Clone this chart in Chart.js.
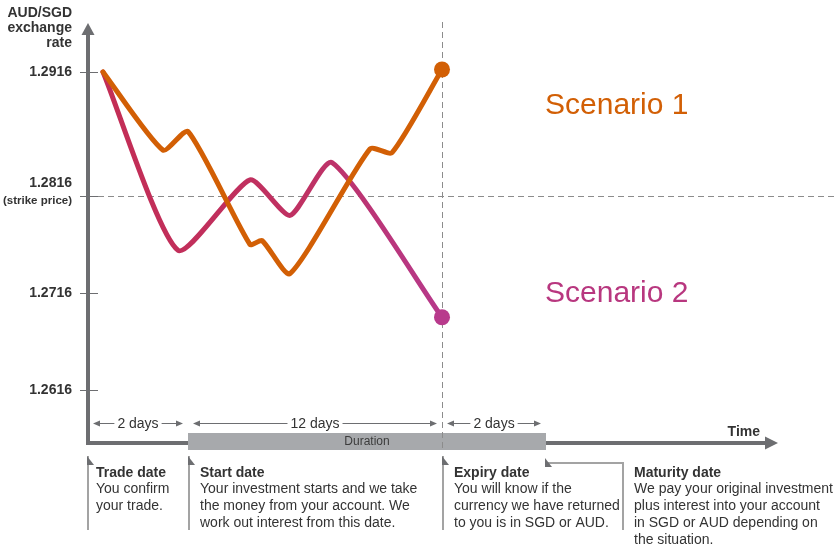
<!DOCTYPE html>
<html>
<head>
<meta charset="utf-8">
<title>AUD/SGD exchange rate scenarios</title>
<script src="https://cdn.jsdelivr.net/npm/chart.js@4.4.1/dist/chart.umd.min.js"></script>
<style>
  html, body { margin: 0; padding: 0; background: #fff; }
  canvas { display: block; }
</style>
</head>
<body>
<canvas id="rateChart" width="835" height="544"></canvas>
<script>
// values (x = days after the trade date)
const scenario1Days = [0.3, 1.5, 2.0, 4.93, 5.5, 6.82, 10.6, 11.64, 14];
const scenario1Rates = [1.2916, 1.2853, 1.2868, 1.2766, 1.2770, 1.2736, 1.2854, 1.2851, 1.2918];
const scenario2Days = [0.3, 1.8, 4.93, 6.82, 8.8, 14];
const scenario2Rates = [1.2916, 1.2760, 1.2829, 1.2796, 1.2843, 1.2691];

const rateTicks = [1.2616, 1.2716, 1.2816, 1.2916];
const strikePrice = 1.2816;

const milestoneDays = [0, 2, 14, 16];
const periodLabels = ['2 days', '12 days', '2 days'];
const milestoneTitles = ['Trade date', 'Start date', 'Expiry date', 'Maturity date'];
const milestoneTexts = [
    ['You confirm', 'your trade.'],
    ['Your investment starts and we take', 'the money from your account. We', 'work out interest from this date.'],
    ['You will know if the', 'currency we have returned', 'to you is in SGD or AUD.'],
    ['We pay your original investment', 'plus interest into your account', 'in SGD or AUD depending on', 'the situation.']
];

const ORANGE = '#d25f05';
const MAGENTA = '#b8377f';
const AXIS = '#6d6e71';
const TEXT = '#333333';
const FONT = "'Liberation Sans', Arial, sans-serif";

// the diagram is schematic: both axes are drawn piecewise, not to scale
const scaleStops = {
    x: [[0, 0], [2, 0.13387], [14, 0.47390], [16, 0.61312]],
    y: [[1.2616, 0.1268], [1.2716, 0.3589], [1.2816, 0.5909], [1.2916, 0.8876]]
};

class PiecewiseScale extends Chart.LinearScale {
    getPixelForValue(value) {
        const stops = scaleStops[this.id];
        let i = 1;
        while (i < stops.length - 1 && value > stops[i][0]) i++;
        const a = stops[i - 1], b = stops[i];
        const frac = a[1] + (value - a[0]) / (b[0] - a[0]) * (b[1] - a[1]);
        return this.getPixelForDecimal(frac);
    }
}
PiecewiseScale.id = 'piecewise';
PiecewiseScale.defaults = Chart.LinearScale.defaults;
Chart.register(PiecewiseScale);

function toPoints(days, rates) {
    return days.map((d, i) => ({ x: d, y: rates[i] }));
}

function lastPointOnly(ctx) {
    return ctx.dataIndex === ctx.dataset.data.length - 1 ? 8 : 0;
}

function tri(c, pts, color) {
    c.beginPath();
    c.moveTo(pts[0][0], pts[0][1]);
    c.lineTo(pts[1][0], pts[1][1]);
    c.lineTo(pts[2][0], pts[2][1]);
    c.closePath();
    c.fillStyle = color;
    c.fill();
}

const diagramPlugin = {
    id: 'diagram',
    beforeDatasetsDraw(chart) {
        const c = chart.ctx;
        const xs = chart.scales.x, ys = chart.scales.y;
        const area = chart.chartArea;
        const axisY = area.bottom;
        const axisX = area.left;
        c.save();

        // strike price guide line
        c.strokeStyle = '#8c8c8c';
        c.lineWidth = 1;
        c.setLineDash([6, 4]);
        const sy = Math.round(ys.getPixelForValue(strikePrice)) + 0.5;
        c.beginPath();
        c.moveTo(axisX + 10, sy);
        c.lineTo(chart.width, sy);
        c.stroke();
        c.restore();

        c.save();
        // x axis with arrow
        c.strokeStyle = AXIS;
        c.lineWidth = 4;
        c.beginPath();
        c.moveTo(axisX - 2, axisY);
        c.lineTo(767, axisY);
        c.stroke();
        tri(c, [[778, axisY], [765, axisY - 6.5], [765, axisY + 6.5]], AXIS);
        // y axis with arrow
        c.beginPath();
        c.moveTo(axisX, axisY + 2);
        c.lineTo(axisX, 34);
        c.stroke();
        tri(c, [[axisX, 23], [axisX - 6.5, 35], [axisX + 6.5, 35]], AXIS);

        // tick marks crossing the y axis
        c.lineWidth = 1;
        rateTicks.forEach(v => {
            const y = Math.round(ys.getPixelForValue(v)) + 0.5;
            c.beginPath();
            c.moveTo(axisX - 8, y);
            c.lineTo(axisX + 10, y);
            c.stroke();
        });

        // axis titles
        c.fillStyle = TEXT;
        c.font = `bold 14px ${FONT}`;
        c.textAlign = 'right';
        c.textBaseline = 'alphabetic';
        c.fillText('AUD/SGD', 72, 17);
        c.fillText('exchange', 72, 32);
        c.fillText('rate', 72, 47);
        c.textBaseline = 'middle';
        c.fillText('1.2816', 72, sy - 13);
        c.font = `bold 11.5px ${FONT}`;
        c.fillText('(strike price)', 72, sy + 4);
        c.font = `bold 14px ${FONT}`;
        c.fillText('Time', 760, axisY - 11);

        // duration bar
        const startX = xs.getPixelForValue(milestoneDays[1]);
        const expiryX = xs.getPixelForValue(milestoneDays[2]);
        const maturityX = xs.getPixelForValue(milestoneDays[3]);
        c.fillStyle = '#a7a9ac';
        c.fillRect(startX, axisY - 10, maturityX - startX, 17);
        c.fillStyle = '#3c3c3c';
        c.font = `12px ${FONT}`;
        c.textAlign = 'center';
        c.fillText('Duration', (startX + maturityX) / 2, axisY - 1);

        // expiry guide
        c.strokeStyle = '#8c8c8c';
        c.setLineDash([6, 4]);
        c.beginPath();
        c.moveTo(Math.round(expiryX) + 0.5, 22);
        c.lineTo(Math.round(expiryX) + 0.5, axisY + 7);
        c.stroke();
        c.setLineDash([]);

        // period arrows
        const ay = axisY - 19.5;
        c.font = `14px ${FONT}`;
        c.strokeStyle = AXIS;
        c.lineWidth = 1;
        periodLabels.forEach((label, i) => {
            const x0 = xs.getPixelForValue(milestoneDays[i]) + 5;
            const x1 = xs.getPixelForValue(milestoneDays[i + 1]) - 5;
            const cx = (x0 + x1) / 2;
            const w = c.measureText(label).width;
            c.beginPath();
            c.moveTo(x0 + 4, ay);
            c.lineTo(cx - w / 2 - 3, ay);
            c.moveTo(cx + w / 2 + 3, ay);
            c.lineTo(x1 - 4, ay);
            c.stroke();
            tri(c, [[x0, ay], [x0 + 7, ay - 3], [x0 + 7, ay + 3]], AXIS);
            tri(c, [[x1, ay], [x1 - 7, ay - 3], [x1 - 7, ay + 3]], AXIS);
            c.fillStyle = TEXT;
            c.textAlign = 'center';
            c.fillText(label, cx, ay + 0.5);
        });

        // milestone notes under the timeline
        const topY = axisY + 13;
        milestoneDays.forEach((d, i) => {
            const mx = Math.round(xs.getPixelForValue(d)) + (i === 1 || i === 2 ? 1 : 0);
            const last = i === milestoneDays.length - 1;
            const lineX = last ? mx + 77 : mx;
            c.strokeStyle = '#a3a3a3';
            c.lineWidth = 2;
            c.beginPath();
            if (last) {
                c.moveTo(mx, topY + 7);
                c.lineTo(lineX, topY + 7);
                c.lineTo(lineX, 530);
            } else {
                c.moveTo(mx, topY);
                c.lineTo(mx, 530);
            }
            c.stroke();
            const ty = last ? topY + 2 : topY;
            tri(c, [[mx - 1, ty], [mx - 1, ty + 9], [mx + 6, ty + 9]], AXIS);

            const tx = lineX + (i === 0 ? 8 : 11);
            c.textAlign = 'left';
            c.textBaseline = 'middle';
            c.fillStyle = TEXT;
            c.font = `bold 14px ${FONT}`;
            c.fillText(milestoneTitles[i], tx, 473);
            c.font = `14px ${FONT}`;
            milestoneTexts[i].forEach((line, j) => c.fillText(line, tx, 489 + j * 17));
        });

        // scenario labels
        c.font = `30px ${FONT}`;
        c.textBaseline = 'alphabetic';
        c.textAlign = 'left';
        c.fillStyle = ORANGE;
        c.fillText('Scenario 1', 545, 114);
        c.fillStyle = MAGENTA;
        c.fillText('Scenario 2', 545, 302);
        c.restore();
    }
};

const ctx = document.getElementById('rateChart');
new Chart(ctx, {
    type: 'line',
    data: {
        datasets: [
            {
                label: 'Scenario 1',
                data: toPoints(scenario1Days, scenario1Rates),
                borderColor: ORANGE,
                pointBackgroundColor: ORANGE,
                borderWidth: 5,
                tension: 0.2,
                pointRadius: lastPointOnly,
                pointBorderWidth: 0,
                borderCapStyle: 'round',
                borderJoinStyle: 'round',
                fill: false
            },
            {
                label: 'Scenario 2',
                data: toPoints(scenario2Days, scenario2Rates),
                borderColor: function (context) {
                    const chart = context.chart;
                    const area = chart.chartArea;
                    if (!area) return '#c0305a';
                    const g = chart.ctx.createLinearGradient(100, 0, 445, 0);
                    g.addColorStop(0, '#c32d55');
                    g.addColorStop(0.6, '#bf3163');
                    g.addColorStop(1, '#b6398c');
                    return g;
                },
                pointBackgroundColor: '#b83a8c',
                borderWidth: 5,
                tension: 0.2,
                pointRadius: lastPointOnly,
                pointBorderWidth: 0,
                borderCapStyle: 'round',
                borderJoinStyle: 'round',
                fill: false
            }
        ]
    },
    options: {
        responsive: false,
        animation: false,
        events: [],
        layout: { autoPadding: false, padding: { top: 25, bottom: 101, left: 0, right: 0 } },
        scales: {
            x: { type: 'piecewise', min: 0, max: 22, display: false },
            y: {
                type: 'piecewise',
                min: 1.255,
                max: 1.30,
                afterBuildTicks: scale => { scale.ticks = rateTicks.map(v => ({ value: v })); },
                afterFit: scale => { scale.width = 88; },
                grid: { display: false, drawTicks: false },
                border: { display: false },
                ticks: {
                    padding: 16,
                    color: TEXT,
                    font: { family: FONT, size: 14, weight: 'bold' },
                    callback: v => (v === strikePrice ? '' : v.toFixed(4))
                }
            }
        },
        plugins: {
            legend: { display: false },
            tooltip: { enabled: false }
        }
    },
    plugins: [diagramPlugin]
});
</script>
</body>
</html>
